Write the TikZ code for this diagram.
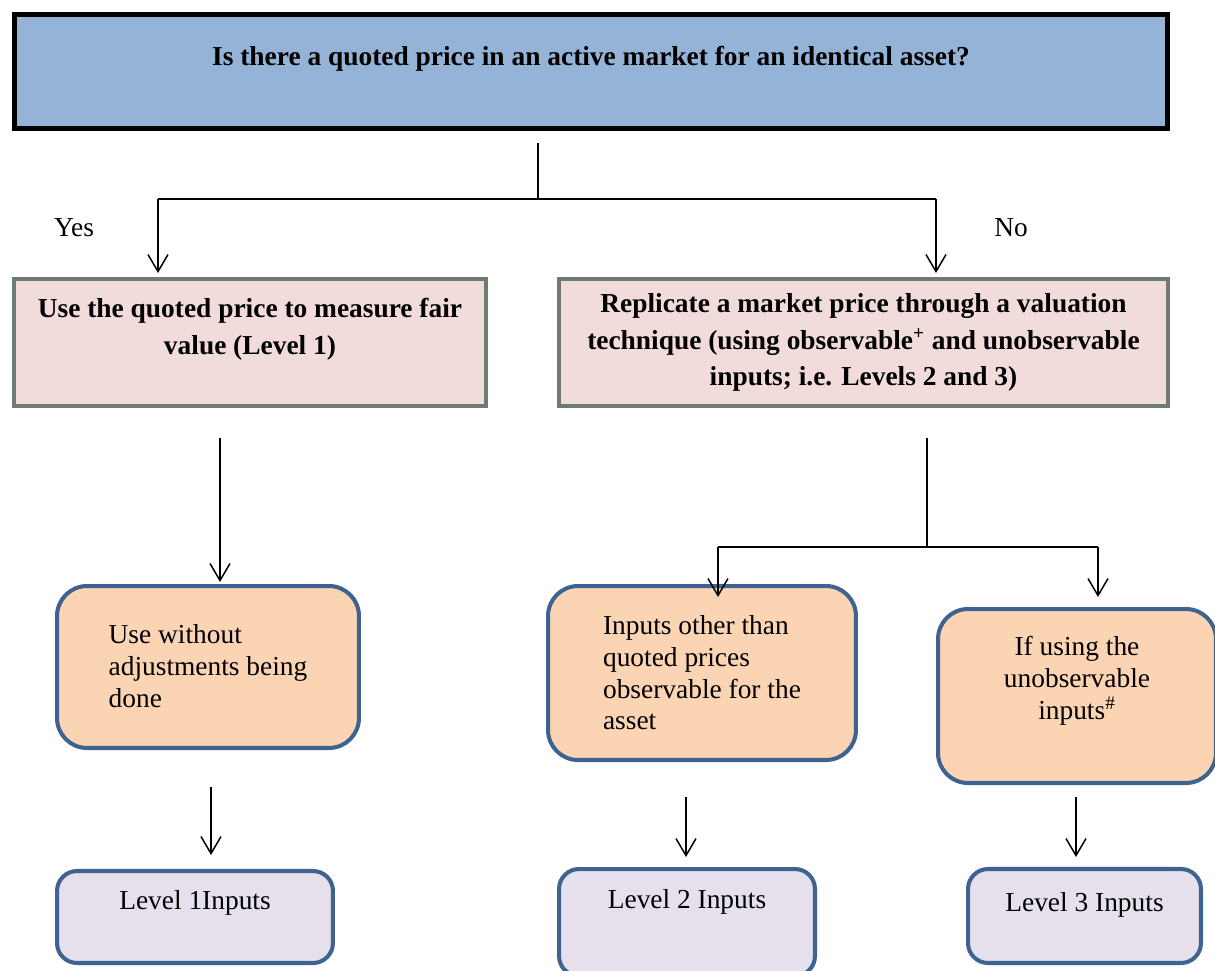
\documentclass[tikz,border=0pt]{standalone}
\usepackage{fontspec}
\setmainfont{Liberation Serif}
\usetikzlibrary{arrows.meta}
\definecolor{askblue}{HTML}{95B3D7}
\definecolor{routepink}{HTML}{F2DCDB}
\definecolor{routegray}{HTML}{6E7B71}
\definecolor{inputorange}{HTML}{FBD4B4}
\definecolor{levellilac}{HTML}{E5E0EC}
\definecolor{edgeblue}{HTML}{3F6391}

\begin{document}
\begin{tikzpicture}[x=0.02cm, y=-0.02cm,
        question/.style={draw=black, line width=2.8pt, fill=askblue, inner sep=0pt, align=center, text height=0pt, font=\bfseries\fontsize{15.6}{21}\selectfont},
        route/.style={draw=routegray, line width=2.3pt, fill=routepink, inner sep=0pt, align=center, text depth=0pt, font=\bfseries\fontsize{15.6}{21}\selectfont},
        source/.style={draw=edgeblue, line width=2.3pt, fill=inputorange, rounded corners=0.6cm, inner sep=0pt, text depth=0pt, font=\fontsize{15.6}{18.1}\selectfont},
        level/.style={draw=edgeblue, line width=2.3pt, fill=levellilac, rounded corners=0.4cm, inner sep=0pt, text height=0pt, font=\fontsize{15.6}{18.1}\selectfont},
        answer/.style={inner sep=0pt, font=\fontsize{15.6}{18.1}\selectfont},
        link/.style={line width=0.85pt},
        arr/.style={line width=0.85pt, -{Straight Barb[length=3.4mm,width=4mm]}}]
    \useasboundingbox (0,0) rectangle (1215,971);

    \node[question, minimum width=23.06cm, minimum height=2.28cm, text depth=0.26cm] (quest) at (591,71.5)
        {Is there a quoted price in an active market for an identical asset?};
    \node[route, minimum width=9.44cm, minimum height=2.54cm, text height=0.46cm] (fairval) at (250,342.5)
        {Use the quoted price to measure fair\\value (Level 1)};
    \node[route, minimum width=12.18cm, minimum height=2.54cm, text height=1.74cm] (replic) at (863.5,342.5)
        {Replicate a market price through a valuation\\technique (using observable\textsuperscript{+} and unobservable\\inputs; i.e. Levels 2 and 3)};
    \node[answer] (yes) at (74,228) {Yes};
    \node[answer] (no) at (1011,228) {No};

    \node[source, align=left, minimum width=6.04cm, minimum height=3.24cm, text height=1.6cm] (noadj) at (208,667)
        {Use without\\adjustments being\\done};
    \node[source, align=left, minimum width=6.16cm, minimum height=3.48cm, text height=2.28cm] (otherin) at (702,673)
        {Inputs other than\\quoted prices\\observable for the\\asset};
    \node[source, align=center, minimum width=5.56cm, minimum height=3.48cm, text height=0.92cm] (unobs) at (1077,696)
        {If using the\\unobservable\\inputs\textsuperscript{\#}};

    \node[level, minimum width=5.52cm, minimum height=1.84cm, text depth=0.32cm] (lvone) at (195,917) {Level 1Inputs};
    \node[level, minimum width=5.12cm, minimum height=2.14cm, text depth=0.58cm] (lvtwo) at (687,922.5) {Level 2 Inputs};
    \node[level, minimum width=4.66cm, minimum height=1.88cm, text depth=0.20cm] (lvthree) at (1084.5,916) {Level 3 Inputs};

    \coordinate (qfoot) at (538,143);
    \coordinate (qsplit) at (538,199);
    \coordinate (yesfork) at (158,199);
    \coordinate (nofork) at (936,199);
    \coordinate (yestip) at (158,273);
    \coordinate (notip) at (936,273);
    \draw[link] (qfoot) -- (qsplit);
    \draw[link] (yesfork) -- (nofork);
    \draw[arr] (yesfork) -- (yestip);
    \draw[arr] (nofork) -- (notip);

    \coordinate (fvfoot) at (220,438);
    \coordinate (fvtip) at (220,582);
    \draw[arr] (fvfoot) -- (fvtip);

    \coordinate (rpfoot) at (927,438);
    \coordinate (rpsplit) at (927,547);
    \coordinate (twofork) at (718,547);
    \coordinate (threefork) at (1098,547);
    \coordinate (twotip) at (718,597);
    \coordinate (threetip) at (1098,597);
    \draw[link] (rpfoot) -- (rpsplit);
    \draw[link] (twofork) -- (threefork);
    \draw[arr] (twofork) -- (twotip);
    \draw[arr] (threefork) -- (threetip);

    \coordinate (nafoot) at (211,787);
    \coordinate (natip) at (211,855);
    \coordinate (oifoot) at (686,797);
    \coordinate (oitip) at (686,857);
    \coordinate (unfoot) at (1076,797);
    \coordinate (untip) at (1076,857);
    \draw[arr] (nafoot) -- (natip);
    \draw[arr] (oifoot) -- (oitip);
    \draw[arr] (unfoot) -- (untip);
\end{tikzpicture}
\end{document}
